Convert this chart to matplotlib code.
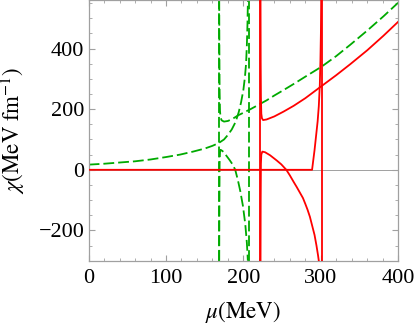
import matplotlib
matplotlib.use("Agg")
import matplotlib.pyplot as plt
from matplotlib.ticker import MultipleLocator

# ---- data ----
# green dashed branches
g1_mu  = [0, 20, 40, 60, 80, 100, 118, 135, 150, 160, 168, 175, 180, 185, 190, 194, 197, 200, 202, 203.5, 204.5, 205.3, 205.9]
g1_chi = [17, 20, 24, 28, 34, 42, 50, 60, 70, 79, 88, 100, 115, 133, 158, 190, 222, 263, 305, 350, 410, 480, 560]

g2_mu  = [168.8, 169.0, 169.3, 169.8, 170.5, 172, 175, 180, 186, 193.5, 200, 210, 220, 230, 240, 252, 265, 280, 301, 320, 338, 360, 381, 400]
g2_chi = [560, 400, 260, 195, 172, 163, 159, 161, 168, 180, 188, 201, 215, 229, 245, 263, 283, 307, 340, 375, 412, 459, 506, 551]

g3_mu  = [168.8, 169.0, 169.3, 169.8, 170.5, 173, 177, 182, 186, 189.5, 193, 196, 199.5, 202.5, 204.5, 205.4, 205.8]
g3_chi = [-300, -120, 20, 58, 66, 62, 50, 33, 18, 0, -35, -70, -120, -180, -240, -280, -300]

# red solid branches
r0_mu  = [0, 288.8, 292, 296, 297.5, 298.8, 299.6, 300.2, 300.6]
r0_chi = [0, 0, 65, 160, 210, 280, 360, 450, 560]

r1_mu  = [222.2, 222.4, 222.7, 223.2, 224, 225.5, 230, 240, 252, 265, 280, 301, 320, 338, 360, 381, 400]
r1_chi = [560, 350, 240, 185, 170, 164, 166, 176, 192, 211, 236, 276, 312, 348, 394, 442, 488]

r2_mu  = [222.2, 222.4, 222.7, 223.2, 224.5, 228, 234.5, 243, 249, 255.5, 260, 265, 269, 273, 277, 280, 283, 286, 288, 290, 292, 294.5, 296.5, 297.5]
r2_chi = [-300, -100, 20, 50, 60, 58, 48, 31, 18, 0, -18, -40, -57, -75, -93, -112, -132, -155, -175, -195, -215, -250, -282, -300]

# vertical connector lines
green_vlines = [168.5, 207.0]
red_vlines = [222.0, 301.7]

x_ticks = [0, 100, 200, 300, 400]
y_ticks = [-200, 0, 200, 400]

GREEN = "#00aa00"
RED = "#ff0000"
FRAME = "#a0a0a0"

plt.rcParams["font.family"] = ["Liberation Serif", "DejaVu Serif"]
plt.rcParams["mathtext.fontset"] = "stix"

fig = plt.figure(figsize=(4.16, 3.28), dpi=100)
ax = fig.add_axes([0.213, 0.205, 0.744, 0.795])

ax.axhline(0, color="#909090", lw=0.6, zorder=1)

dash = (0, (6, 2.2))
for xv in green_vlines:
    ax.axvline(xv, color=GREEN, lw=1.3, linestyle=dash, zorder=2)
for xv in red_vlines:
    ax.axvline(xv, color=RED, lw=1.3, zorder=3)

ax.plot(g1_mu, g1_chi, color=GREEN, lw=1.3, linestyle=dash, zorder=2)
ax.plot(g2_mu, g2_chi, color=GREEN, lw=1.3, linestyle=dash, zorder=2)
ax.plot(g3_mu, g3_chi, color=GREEN, lw=1.3, linestyle=dash, zorder=2)
ax.plot(r0_mu, r0_chi, color=RED, lw=1.3, zorder=3)
ax.plot(r1_mu, r1_chi, color=RED, lw=1.3, zorder=3)
ax.plot(r2_mu, r2_chi, color=RED, lw=1.3, zorder=3)

ax.set_xlim(0, 400)
ax.set_ylim(-300, 560)
ax.set_xticks(x_ticks)
ax.set_yticks(y_ticks)
ax.xaxis.set_minor_locator(MultipleLocator(20))
ax.yaxis.set_minor_locator(MultipleLocator(50))
ax.tick_params(which="both", direction="in", top=True, right=True,
               color=FRAME, labelsize=16, labelcolor="black")
ax.tick_params(which="major", length=4, width=0.8)
ax.tick_params(which="minor", length=2.3, width=0.6)
ax.tick_params(axis="x", pad=6)
ax.tick_params(axis="y", pad=3)
for s in ax.spines.values():
    s.set_color(FRAME)
    s.set_linewidth(0.9)

ax.set_xlabel(r"$\mu(\mathrm{MeV})$", fontsize=16.5, labelpad=8)
ax.set_ylabel(r"$\chi(\mathrm{MeV\ fm}^{-1})$", fontsize=16.5, labelpad=8)

fig.savefig("out.png", dpi=100)
